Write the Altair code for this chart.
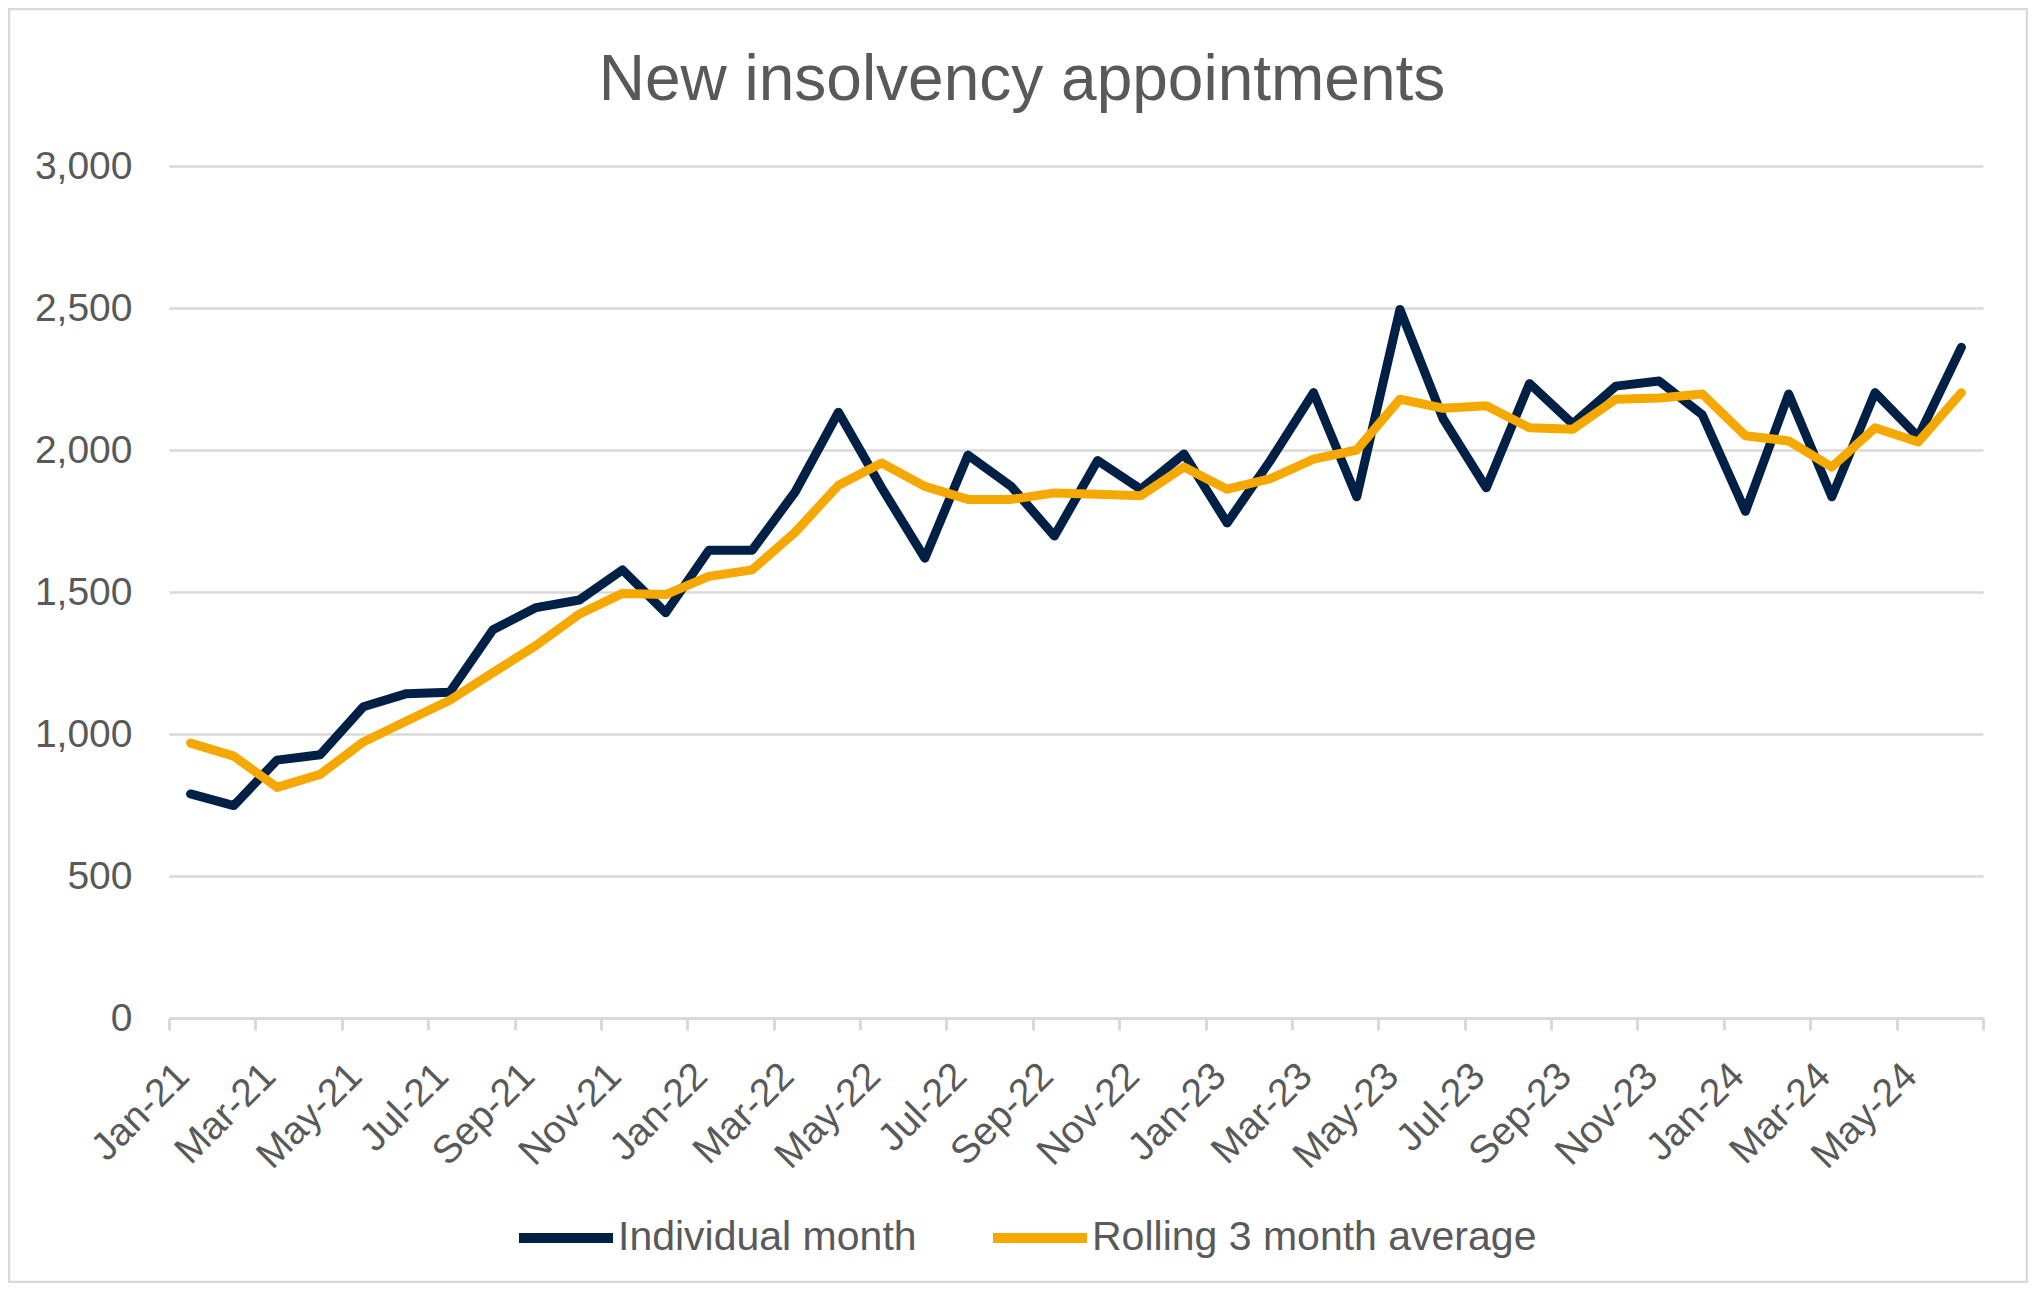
import json
import altair as alt
import pandas as pd

months = ["Jan-21", "Feb-21", "Mar-21", "Apr-21", "May-21", "Jun-21", "Jul-21", "Aug-21",
          "Sep-21", "Oct-21", "Nov-21", "Dec-21", "Jan-22", "Feb-22", "Mar-22", "Apr-22",
          "May-22", "Jun-22", "Jul-22", "Aug-22", "Sep-22", "Oct-22", "Nov-22", "Dec-22",
          "Jan-23", "Feb-23", "Mar-23", "Apr-23", "May-23", "Jun-23", "Jul-23", "Aug-23",
          "Sep-23", "Oct-23", "Nov-23", "Dec-23", "Jan-24", "Feb-24", "Mar-24", "Apr-24",
          "May-24", "Jun-24"]

individual = [789, 748, 908, 927, 1096, 1142, 1147, 1367, 1445, 1472, 1578, 1427,
              1647, 1647, 1853, 2133, 1867, 1619, 1982, 1872, 1697, 1963, 1862, 1986,
              1743, 1963, 2202, 1835, 2495, 2110, 1867, 2234, 2092, 2225, 2243, 2124,
              1784, 2197, 1835, 2202, 2046, 2362]

rolling = [968, 922, 812, 858, 972, 1046, 1119, 1216, 1312, 1422, 1495, 1491,
           1555, 1578, 1711, 1876, 1954, 1872, 1826, 1826, 1849, 1844, 1839, 1940,
           1862, 1899, 1968, 2000, 2179, 2147, 2156, 2078, 2073, 2179, 2183, 2197,
           2050, 2032, 1940, 2078, 2028, 2202]

y_ticks = [0, 500, 1000, 1500, 2000, 2500, 3000]
series_names = ["Individual month", "Rolling 3 month average"]
series_colors = ["#002045", "#F5A800"]

rows = []
for i, m in enumerate(months):
    rows.append({"pos": i + 0.5, "month": m, "series": series_names[0], "value": individual[i]})
    rows.append({"pos": i + 0.5, "month": m, "series": series_names[1], "value": rolling[i]})
df = pd.DataFrame(rows)

FONT = "Liberation Sans"
TXT = "#595959"
GRID = "#D9D9D9"
W, H = 1814, 852
n = len(months)

label_expr = json.dumps(months) + "[datum.value] || ''"

lines = alt.Chart(df).mark_line(strokeWidth=9, strokeCap="round", strokeJoin="round").encode(
    x=alt.X("pos:Q",
            scale=alt.Scale(domain=[0, n], nice=False, zero=False),
            axis=alt.Axis(values=list(range(0, n + 1, 2)), labelExpr=label_expr,
                          labelOffset=0, labelAngle=-45, labelAlign="right",
                          labelBaseline="top", labelPadding=26, labelFontSize=39,
                          labelColor=TXT, labelFont=FONT, labelOverlap=False,
                          labelBound=False, labelFlush=False,
                          tickSize=12, tickWidth=3, tickColor=GRID,
                          domainColor=GRID, domainWidth=3, grid=False, title=None)),
    y=alt.Y("value:Q",
            scale=alt.Scale(domain=[0, 3000], nice=False),
            axis=alt.Axis(values=y_ticks, format=",.0f",
                          labelFontSize=39, labelColor=TXT, labelFont=FONT,
                          labelPadding=37, ticks=False, domain=False,
                          grid=True, gridColor=GRID, gridWidth=2.5, title=None)),
    color=alt.Color("series:N",
                    scale=alt.Scale(domain=series_names, range=series_colors),
                    legend=alt.Legend(orient="none", legendX=345, legendY=1020,
                                      direction="horizontal", title=None,
                                      labelFontSize=41, labelColor=TXT, labelFont=FONT,
                                      labelLimit=1000,
                                      symbolType="stroke", symbolStrokeWidth=10,
                                      symbolSize=8836, labelOffset=0, columnPadding=56)),
    order=alt.Order("pos:Q"),
)

frame = alt.Chart(pd.DataFrame({"k": [0]})).mark_rect(
    fill=None, stroke=GRID, strokeWidth=2.5
).encode(x=alt.value(-160), x2=alt.value(W + 44), y=alt.value(-157), y2=alt.value(H + 264))

chart = alt.layer(frame, lines).properties(
    width=W, height=H,
    padding={"left": 161, "top": 158, "right": 45, "bottom": 265},
    autosize=alt.AutoSizeParams(type="none"),
    title=alt.TitleParams("New insolvency appointments", fontSize=64, font=FONT,
                          color=TXT, fontWeight="normal", anchor="middle",
                          frame="group", baseline="alphabetic",
                          dx=-54, offset=-156),
).configure_view(stroke=None)

chart.save("out.html", embed_options={"renderer": "svg", "actions": False})
